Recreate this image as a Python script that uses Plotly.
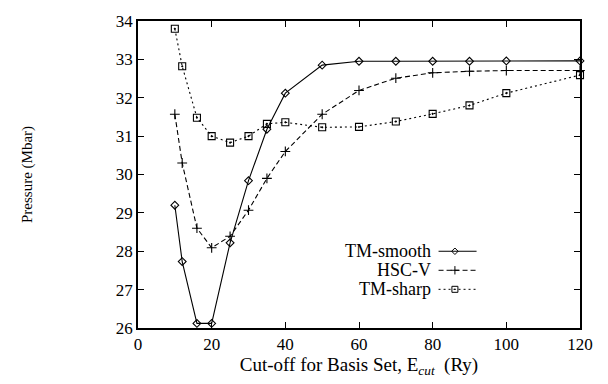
import plotly.graph_objects as go

ecut_smooth = [10, 12, 16, 20, 25, 30, 35, 40, 50, 60, 70, 80, 90, 100, 120]
p_smooth = [29.2, 27.73, 26.12, 26.12, 28.22, 29.84, 31.18, 32.12, 32.85, 32.95, 32.95, 32.95, 32.95, 32.96, 32.96]

ecut_hsc = [10, 12, 16, 20, 25, 30, 35, 40, 50, 60, 70, 80, 90, 100, 120]
p_hsc = [31.57, 30.3, 28.6, 28.09, 28.39, 29.07, 29.9, 30.6, 31.57, 32.19, 32.51, 32.65, 32.69, 32.71, 32.71]

ecut_sharp = [10, 12, 16, 20, 25, 30, 35, 40, 50, 60, 70, 80, 90, 100, 120]
p_sharp = [33.8, 32.82, 31.48, 31.0, 30.83, 31.0, 31.32, 31.36, 31.23, 31.24, 31.38, 31.58, 31.8, 32.12, 32.59]

names = ["TM-smooth", "HSC-V", "TM-sharp"]
x_ticks = [0, 20, 40, 60, 80, 100, 120]
y_ticks = [26, 27, 28, 29, 30, 31, 32, 33, 34]

FONT = "Liberation Serif"
styles = [
    dict(dash="solid", symbol="diamond-open", size=6),
    dict(dash="5px,3px", symbol="cross-thin-open", size=7),
    dict(dash="2px,3px", symbol="square-open-dot", size=7),
]

fig = go.Figure()
for xs, ys, nm, st in zip([ecut_smooth, ecut_hsc, ecut_sharp], [p_smooth, p_hsc, p_sharp], names, styles):
    fig.add_trace(go.Scatter(
        x=xs, y=ys, name=nm, mode="lines+markers",
        line=dict(color="black", width=1.1, dash=st["dash"]),
        marker=dict(symbol=st["symbol"], size=st["size"], color="black",
                    line=dict(color="black", width=1.1)),
        showlegend=False, cliponaxis=False,
    ))

# manual legend (text left, sample right)
leg_y = [0.25, 0.188, 0.126]
for nm, st, ly in zip(names, styles, leg_y):
    fig.add_annotation(x=0.667, y=ly, xref="paper", yref="paper", text=nm,
                       showarrow=False, xanchor="right", yanchor="middle",
                       font=dict(family=FONT, size=18, color="black"))
    fig.add_shape(type="line", xref="paper", yref="paper", x0=0.68, x1=0.766, y0=ly, y1=ly,
                  line=dict(color="black", width=1, dash=st["dash"]))
    fig.add_trace(go.Scatter(x=[0.717], y=[ly], xaxis="x2", yaxis="y2", mode="markers",
                             marker=dict(symbol=st["symbol"], size=st["size"] - 1, color="black",
                                         line=dict(color="black", width=1)),
                             showlegend=False, hoverinfo="skip"))

axis_common = dict(showgrid=False, zeroline=False, showline=True, linecolor="black", linewidth=1.5,
                   mirror="ticks", ticks="inside", ticklen=6, tickcolor="black", tickwidth=1.2,
                   tickfont=dict(family=FONT, size=17, color="black"))

fig.update_layout(
    width=608, height=384,
    margin=dict(l=138, r=28, t=12, b=56),
    paper_bgcolor="white", plot_bgcolor="white",
    font=dict(family=FONT, color="black"),
    xaxis=dict(range=[0, 120], tickvals=x_ticks, ticktext=[str(v) for v in x_ticks],
               title=dict(text="Cut-off for Basis Set, E<sub><i>cut</i></sub>  (Ry)", standoff=3,
                          font=dict(family=FONT, size=19, color="black")),
               **axis_common),
    yaxis=dict(range=[26, 34], tickvals=y_ticks, ticktext=[str(v) for v in y_ticks],
               title=dict(text="Pressure (Mbar)", standoff=80,
                          font=dict(family=FONT, size=15, color="black")),
               **axis_common),
    xaxis2=dict(range=[0, 1], overlaying="x", visible=False),
    yaxis2=dict(range=[0, 1], overlaying="y", visible=False),
)

fig.write_html("out.html")
